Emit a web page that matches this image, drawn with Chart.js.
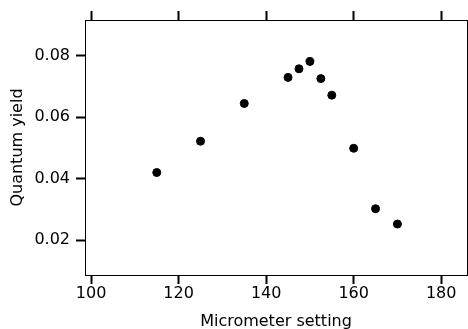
<!DOCTYPE html>
<html>
<head>
<meta charset="utf-8">
<script src="https://cdn.jsdelivr.net/npm/chart.js@4.4.0/dist/chart.umd.min.js"></script>
<style>
  body { margin: 0; background: #fff; }
  canvas { display: block; }
</style>
</head>
<body>
<canvas id="yieldChart" width="468" height="329"></canvas>
<script>
// micrometer setting vs quantum yield
var settings = [115, 125, 135, 145, 147.5, 150, 152.5, 155, 160, 165, 170];
var yields = [0.042, 0.0522, 0.0645, 0.0730, 0.0758, 0.0782, 0.0726, 0.0672, 0.0499, 0.0302, 0.0252];

var xTicks = [100, 120, 140, 160, 180];
var yTicks = [0.02, 0.04, 0.06, 0.08];

var tickFont = { family: 'DejaVu Sans', size: 16 };
var titleFont = { family: 'DejaVu Sans', size: 16, lineHeight: 1 };

// force axis box sizes so the plot area sits where it does in the original
function fixSize(prop, val) {
    return function (scale) {
        scale[prop] = val;
        scale.paddingLeft = 0;
        scale.paddingRight = 0;
        scale.paddingTop = 0;
        scale.paddingBottom = 0;
    };
}

var points = settings.map(function (x, i) { return { x: x, y: yields[i] }; });

var ctx = document.getElementById('yieldChart').getContext('2d');
var chart = new Chart(ctx, {
    type: 'scatter',
    data: {
        datasets: [{
            data: points,
            backgroundColor: '#000',
            borderColor: '#000',
            pointRadius: 4,
            pointHoverRadius: 4
        }]
    },
    options: {
        responsive: false,
        animation: false,
        events: [],
        layout: { padding: 0, autoPadding: false },
        plugins: {
            legend: { display: false },
            tooltip: { enabled: false }
        },
        scales: {
            x: {
                type: 'linear',
                position: 'bottom',
                min: 98.6,
                max: 185.9,
                afterFit: fixSize('height', 54),
                afterBuildTicks: function (s) { s.ticks = xTicks.map(function (v) { return { value: v }; }); },
                ticks: { font: tickFont, color: '#000', padding: 0, maxRotation: 0 },
                grid: { drawOnChartArea: false, drawTicks: true, tickLength: 9, tickWidth: 2, tickColor: '#000' },
                border: { display: true, color: '#000', width: 1 },
                title: { display: true, text: 'Micrometer setting', font: titleFont, color: '#000', padding: { top: 0, bottom: -1 } }
            },
            xTop: {
                type: 'linear',
                position: 'top',
                min: 98.6,
                max: 185.9,
                afterFit: fixSize('height', 20),
                afterBuildTicks: function (s) { s.ticks = xTicks.map(function (v) { return { value: v }; }); },
                ticks: { display: false },
                grid: { drawOnChartArea: false, drawTicks: true, tickLength: 9, tickWidth: 2, tickColor: '#000' },
                border: { display: true, color: '#000', width: 1 }
            },
            y: {
                type: 'linear',
                position: 'left',
                min: 0.0086,
                max: 0.0917,
                afterFit: fixSize('width', 85),
                afterBuildTicks: function (s) { s.ticks = yTicks.map(function (v) { return { value: v }; }); },
                ticks: {
                    font: tickFont, color: '#000', padding: 6,
                    callback: function (v) { return v.toFixed(2); }
                },
                grid: { drawOnChartArea: false, drawTicks: true, tickLength: 9, tickWidth: 2, tickColor: '#000' },
                border: { display: true, color: '#000', width: 1 },
                title: { display: true, text: 'Quantum yield', font: titleFont, color: '#000', padding: { top: 10, bottom: 0 } }
            },
            yRight: {
                type: 'linear',
                position: 'right',
                min: 0.0086,
                max: 0.0917,
                afterFit: fixSize('width', 1),
                ticks: { display: false },
                grid: { drawOnChartArea: false, drawTicks: false },
                border: { display: true, color: '#000', width: 1 }
            }
        }
    }
});
</script>
</body>
</html>
